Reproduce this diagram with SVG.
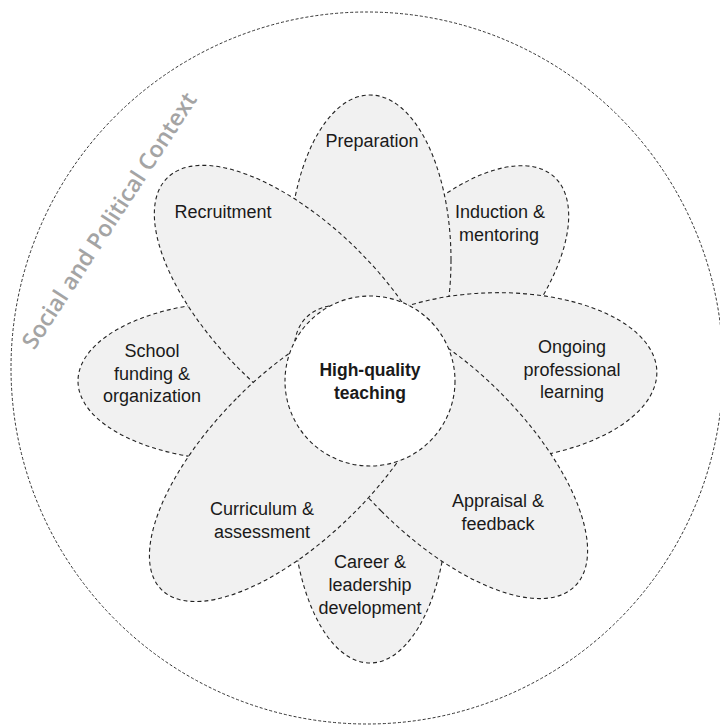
<svg xmlns="http://www.w3.org/2000/svg" width="720" height="726" viewBox="0 0 720 726">
  <style>
    .bg { fill: #ffffff; }
    .outer { fill: none; stroke: #333; stroke-width: 1; stroke-dasharray: 3 2; }
    .petal { fill: #f1f1f1; stroke: #222; stroke-width: 1.1; stroke-dasharray: 4 3; }
    .core { fill: #ffffff; stroke: #222; stroke-width: 1.1; stroke-dasharray: 4 3; }
    .lbl { font-family: "Liberation Sans", Arial, sans-serif; font-size: 18px; fill: #1a1a1a; text-anchor: middle; }
    .bold { font-weight: bold; font-size: 17.5px; }
    .ctx { font-family: "Open Sans", "Liberation Sans", sans-serif; font-size: 23px; font-weight: 600; fill: #a4a4a4; text-anchor: middle; }
  </style>
  <rect class="bg" x="0" y="0" width="720" height="726"/>

  <g id="context">
    <circle class="outer" cx="367" cy="368" r="356"/>
    <text class="ctx" transform="translate(116,225) rotate(-57)" textLength="300" lengthAdjust="spacing">Social and Political Context</text>
  </g>

  <g id="school">
    <ellipse class="petal" transform="translate(370,381) rotate(270)" cx="0" cy="-125" rx="80" ry="167"/>
    <text class="lbl" x="152" y="357">School</text>
    <text class="lbl" x="152" y="380">funding &amp;</text>
    <text class="lbl" x="152" y="402">organization</text>
  </g>

  <g id="induction">
    <ellipse class="petal" transform="translate(370,381) rotate(42)" cx="0" cy="-115" rx="78" ry="160"/>
    <text class="lbl" x="500" y="218">Induction &amp;</text>
    <text class="lbl" x="499" y="241">mentoring</text>
  </g>

  <g id="preparation">
    <ellipse class="petal" transform="translate(370,381)" cx="0" cy="-121" rx="81" ry="165"/>
    <text class="lbl" x="372" y="147">Preparation</text>
  </g>

  <g id="recruitment">
    <ellipse class="petal" transform="translate(370,381) rotate(315)" cx="0" cy="-100" rx="84" ry="187"/>
    <text class="lbl" x="223" y="218">Recruitment</text>
  </g>

  <g id="ongoing">
    <ellipse class="petal" transform="translate(370,381) rotate(88)" cx="0" cy="-120" rx="84" ry="167"/>
    <text class="lbl" x="572" y="353">Ongoing</text>
    <text class="lbl" x="572" y="376">professional</text>
    <text class="lbl" x="572" y="398">learning</text>
  </g>

  <g id="career">
    <ellipse class="petal" transform="translate(370,381) rotate(180)" cx="0" cy="-118" rx="78" ry="164"/>
    <text class="lbl" x="370" y="568">Career &amp;</text>
    <text class="lbl" x="370" y="591">leadership</text>
    <text class="lbl" x="370" y="614">development</text>
  </g>

  <g id="appraisal">
    <ellipse class="petal" transform="translate(370,381) rotate(135)" cx="0" cy="-100" rx="84" ry="190"/>
    <text class="lbl" x="498" y="507">Appraisal &amp;</text>
    <text class="lbl" x="498" y="530">feedback</text>
  </g>

  <g id="curriculum">
    <ellipse class="petal" transform="translate(370,381) rotate(225)" cx="0" cy="-105" rx="82" ry="190"/>
    <text class="lbl" x="262" y="515">Curriculum &amp;</text>
    <text class="lbl" x="262" y="538">assessment</text>
  </g>

  <g id="core">
    <circle class="core" cx="370" cy="381" r="85"/>
    <text class="lbl bold" x="370" y="376">High-quality</text>
    <text class="lbl bold" x="370" y="399">teaching</text>
  </g>
</svg>
